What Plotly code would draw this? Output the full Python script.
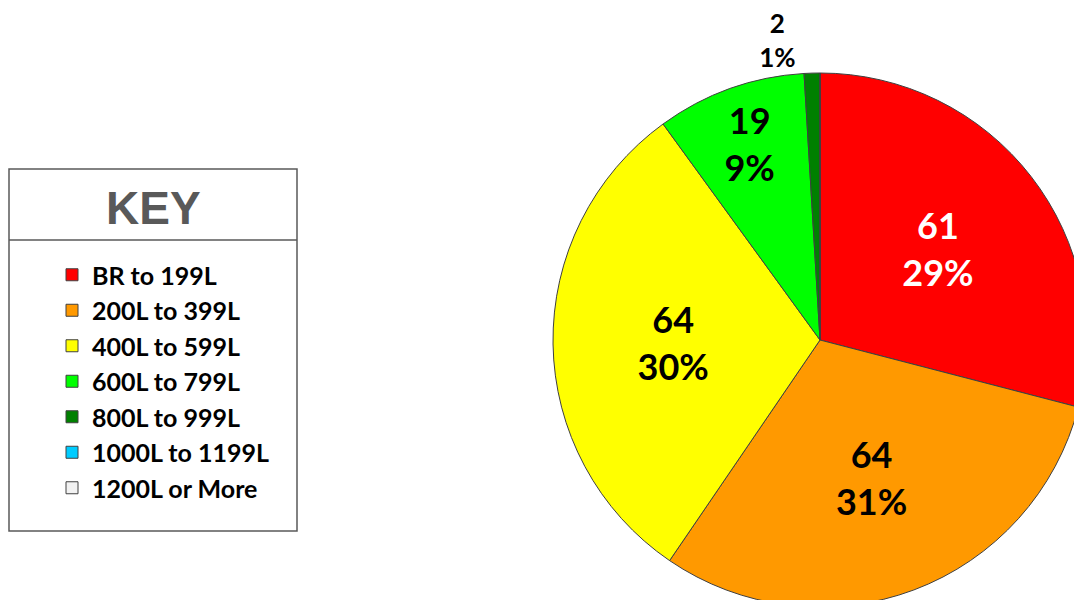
import plotly.graph_objects as go

# ---- data ----
categories = ["BR to 199L", "200L to 399L", "400L to 599L", "600L to 799L",
              "800L to 999L", "1000L to 1199L", "1200L or More"]
counts = [61, 64, 64, 19, 2, 0, 0]
pct_labels = ["29%", "31%", "30%", "9%", "1%", "", ""]
colors = ["#FF0000", "#FF9900", "#FFFF00", "#00FF00", "#008000", "#00CCFF", "#F2F2F2"]
label_colors = ["white", "black", "black", "black", "black", "black", "black"]

# ---- canvas (pixel helpers) ----
W, H = 1100, 620


def px(x):
    return x / W


def py(y):
    return 1 - y / H


text_pos = []
templates = []
for v in counts:
    if v == 0:
        text_pos.append("none")
        templates.append("")
    elif v / sum(counts) < 0.03:
        text_pos.append("outside")
        templates.append("%{value}<br>%{text}")
    else:
        text_pos.append("inside")
        templates.append("%{value}<br>%{text}")

fig = go.Figure()
fig.add_trace(go.Pie(
    labels=categories,
    values=counts,
    text=pct_labels,
    texttemplate=templates,
    textinfo="text",
    textposition=text_pos,
    sort=False,
    direction="clockwise",
    rotation=0,
    marker=dict(colors=colors, line=dict(color="#404040", width=1)),
    insidetextfont=dict(family="Lato", size=36, color=label_colors, weight="bold"),
    outsidetextfont=dict(family="Lato", size=26, color="black", weight="bold"),
    insidetextorientation="horizontal",
    domain=dict(x=[px(553), px(1087)], y=[py(607), py(73)]),
    showlegend=True,
    hoverinfo="label+value+percent",
))

# legend frame and header
fig.add_shape(type="rect", xref="paper", yref="paper",
              x0=px(9), x1=px(297), y0=py(531), y1=py(169),
              line=dict(color="#595959", width=1.5), fillcolor="rgba(0,0,0,0)")
fig.add_shape(type="line", xref="paper", yref="paper",
              x0=px(9), x1=px(297), y0=py(240), y1=py(240),
              line=dict(color="#595959", width=1.5))
fig.add_annotation(x=px(153), y=py(208), xref="paper", yref="paper",
                   text="<b>KEY</b>", showarrow=False,
                   font=dict(family="Liberation Sans", size=46, color="#595959"),
                   xanchor="center", yanchor="middle")

fig.update_layout(
    width=W, height=H,
    margin=dict(l=0, r=0, t=0, b=0),
    paper_bgcolor="white",
    plot_bgcolor="white",
    legend=dict(
        x=px(52), y=py(252), xanchor="left", yanchor="top",
        font=dict(family="Lato", size=25, color="black", weight="bold"),
        bgcolor="rgba(0,0,0,0)", borderwidth=0,
        traceorder="normal",
    ),
)

fig.write_html(
    "out.html",
    config={"displayModeBar": False},
    post_script="document.body.style.margin='0';document.body.style.overflow='hidden';"
                "document.documentElement.style.overflow='hidden';",
)
